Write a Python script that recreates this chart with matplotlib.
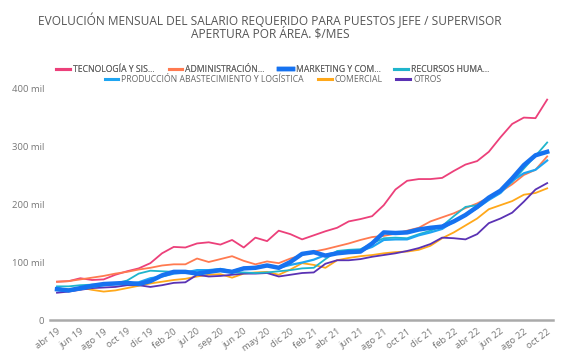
import numpy as np
import matplotlib
matplotlib.use("Agg")
import matplotlib.pyplot as plt
from matplotlib.lines import Line2D

categories = ['abr 19','may 19','jun 19','jul 19','ago 19','sep 19','oct 19','nov 19','dic 19','ene 20',
              'feb 20','mar 20','jul 20','ago 20','sep 20','oct 20','jun 20','abr 20','may 20','nov 20',
              'dic 20','ene 21','feb 21','mar 21','abr 21','may 21','jun 21','jul 21','ago 21','sep 21',
              'oct 21','nov 21','dic 21','ene 22','feb 22','mar 22','abr 22','may 22','jun 22','jul 22',
              'ago 22','sep 22','oct 22']

tecnologia = [66,67,72,69,70,78,84,89,98,115,126,125,132,134,130,138,125,142,136,154,148,139,146,153,159,
              170,174,179,198,225,240,243,243,245,257,268,274,290,315,338,349,348,380]
administracion = [66,67,70,73,76,80,83,87,90,94,96,96,106,100,105,110,102,96,101,98,106,112,118,122,127,
                  132,138,143,145,149,154,159,170,177,184,193,201,211,221,234,250,259,282]
marketing = [53,51,55,59,62,63,64,62,67,77,83,83,80,83,86,83,89,90,94,90,100,114,117,111,115,
             117,118,132,151,150,151,156,159,161,170,181,195,211,223,244,267,284,290]
rrhh = [58,58,60,61,62,63,68,80,85,84,83,82,82,83,84,82,82,81,82,84,86,89,90,105,119,
        121,122,132,141,142,141,148,154,162,179,195,198,208,221,238,261,283,306]
produccion = [56,50,53,57,60,62,63,65,72,75,80,82,86,86,88,84,90,90,93,90,95,99,104,112,117,
              118,119,126,138,139,139,146,151,157,170,181,193,207,219,240,253,259,275]
comercial = [52,53,56,52,49,51,55,59,63,66,69,71,75,78,79,73,80,82,83,78,87,98,95,90,103,
             107,110,112,115,117,118,121,128,141,151,163,175,191,198,205,216,219,227]
otros = [47,49,52,55,56,57,60,60,57,60,64,65,78,75,76,78,80,80,81,75,78,81,82,97,103,
         103,105,109,112,115,119,124,131,142,141,139,148,167,175,185,204,225,236]

series_names = ['TECNOLOGÍA Y SIS…', 'ADMINISTRACIÓN…', 'MARKETING Y COM…', 'RECURSOS HUMA…',
                'PRODUCCIÓN ABASTECIMIENTO Y LOGÍSTICA', 'COMERCIAL', 'OTROS']
series_values = [tecnologia, administracion, marketing, rrhh, produccion, comercial, otros]
colors = ['#EC407A', '#FF7A50', '#1672F0', '#1FB5CC', '#1EA5F2', '#FFA81A', '#5A32B4']
widths = [1.3, 1.3, 3.2, 1.3, 1.6, 1.3, 1.3]
zorders = [3, 3, 5, 4, 4, 3, 3]

plt.rcParams['font.family'] = ['Open Sans', 'DejaVu Sans']

W, H = 575, 362
fig = plt.figure(figsize=(W/100, H/100), dpi=100)
ax = fig.add_axes([50/W, (H-320)/H, (553-50)/W, (320-88)/H])

x = np.arange(len(categories))
handles = []
for name, vals, c, lw, z in zip(series_names, series_values, colors, widths, zorders):
    ln, = ax.plot(x, np.array(vals) * 1000, color=c, lw=lw, zorder=z, solid_joinstyle='round')
    handles.append(Line2D([0], [0], color=c, lw=2.2 if lw < 3 else 3.2))

ax.set_xlim(-0.6, len(categories) - 1 + 0.5)
ax.set_ylim(0, 400000)
ax.set_yticks([0, 100000, 200000, 300000, 400000])
ax.set_yticklabels(['0', '100 mil', '200 mil', '300 mil', '400 mil'])
ax.set_xticks(x[::2])
ax.set_xticklabels(categories[::2], rotation=36, ha='right', rotation_mode='anchor')
ax.tick_params(axis='both', length=0, colors='#777777', labelsize=6.8)
ax.tick_params(axis='y', pad=4)
ax.tick_params(axis='x', pad=5)
for s in ['top', 'right', 'left']:
    ax.spines[s].set_visible(False)
ax.spines['bottom'].set_color('#AAAAAA')
ax.spines['bottom'].set_linewidth(1.8)

fig.text(270/W, 1 - 20/H, 'EVOLUCIÓN MENSUAL DEL SALARIO REQUERIDO PARA PUESTOS JEFE / SUPERVISOR',
         ha='center', va='center', fontsize=8.6, color='#555555')
fig.text(270/W, 1 - 34/H, 'APERTURA POR ÁREA. $/MES',
         ha='center', va='center', fontsize=8.6, color='#555555')

leg1 = fig.legend(handles[:4], series_names[:4], loc='center', bbox_to_anchor=(273/W, 1 - 70/H),
                  ncol=4, frameon=False, fontsize=6.2, handlelength=1.6, handletextpad=0.35,
                  columnspacing=1.6, labelcolor='#666666', borderpad=0, borderaxespad=0)
leg2 = fig.legend(handles[4:], series_names[4:], loc='center', bbox_to_anchor=(273/W, 1 - 80/H),
                  ncol=3, frameon=False, fontsize=6.2, handlelength=1.6, handletextpad=0.35,
                  columnspacing=1.6, labelcolor='#666666', borderpad=0, borderaxespad=0)
fig.add_artist(leg1)

fig.savefig('out.png', dpi=100)
